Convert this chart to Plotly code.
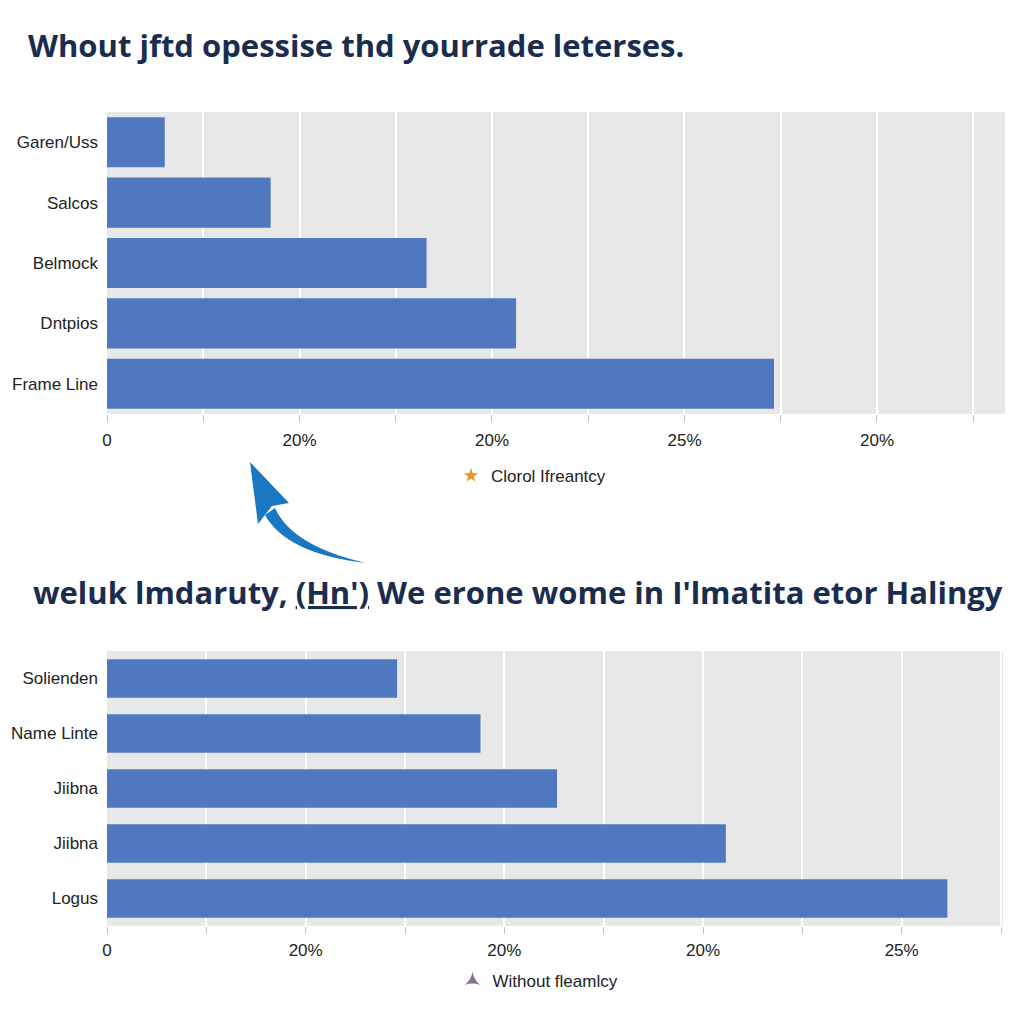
import plotly.graph_objects as go

# ---- data ----
top_title = "Whout jftd opessise thd yourrade leterses."
top_labels = ["Garen/Uss", "Salcos", "Belmock", "Dntpios", "Frame Line"]
top_values = [0.6, 1.7, 3.32, 4.25, 6.93]
top_tickvals = [0, 1, 2, 3, 4, 5, 6, 7, 8, 9]
top_ticktext = ["0", "", "20%", "", "20%", "", "25%", "", "20%", ""]
top_legend = "Clorol Ifreantcy"

bot_title = "weluk lmdaruty, <u>(Hn')</u> We erone wome in I'lmatita etor Halingy"
bot_labels = ["Solienden", "Name Linte", "Jiibna", "Jiibna", "Logus"]
bot_values = [2.92, 3.76, 4.53, 6.23, 8.46]
bot_tickvals = [0, 1, 2, 3, 4, 5, 6, 7, 8, 9]
bot_ticktext = ["0", "", "20%", "", "20%", "", "20%", "", "25%", ""]
bot_legend = "Without fleamlcy"

BAR = "#5078c0"
NAVY = "#1b2d4f"
TXT = "#222222"
ARROW = "#1a78c2"

W = H = 1024
def px(x):
    return x / W
def py(y):
    return 1 - y / H

fig = go.Figure()

pos = list(range(len(top_labels)))

fig.add_trace(go.Bar(x=top_values, y=pos, orientation="h", marker_color=BAR,
                     marker_line_width=0, showlegend=False, xaxis="x", yaxis="y",
                     width=0.83))
fig.add_trace(go.Bar(x=bot_values, y=pos, orientation="h", marker_color=BAR,
                     marker_line_width=0, showlegend=False, xaxis="x2", yaxis="y2",
                     width=0.7))

# legend-only entries
fig.add_trace(go.Scatter(x=[None], y=[None], mode="markers", name=top_legend,
                         marker=dict(symbol="star", size=11, color="#e8962e"),
                         xaxis="x", yaxis="y", legend="legend"))
fig.add_trace(go.Scatter(x=[None], y=[None], mode="markers", name=bot_legend,
                         marker=dict(symbol="star-triangle-up", size=11, color="#8a7390"),
                         xaxis="x2", yaxis="y2", legend="legend2"))

axis_font = dict(family="Liberation Sans, Arial, sans-serif", size=17, color=TXT)

common_x = dict(showgrid=True, gridcolor="white", gridwidth=2, zeroline=False,
                tickmode="array", ticks="outside", ticklen=7, tickcolor="#c4c4c4",
                tickwidth=1, tickfont=axis_font, showline=False, fixedrange=True,
                automargin=False)
common_y = dict(showgrid=False, zeroline=False, tickmode="array", tickvals=pos,
                ticks="", tickfont=axis_font, autorange=False, range=[4.5, -0.5],
                ticklabelstandoff=8, automargin=False)

fig.update_layout(
    width=W, height=H,
    margin=dict(l=0, r=0, t=0, b=0, autoexpand=False),
    paper_bgcolor="white",
    plot_bgcolor="#e8e8e8",
    font=dict(family="Liberation Sans, Arial, sans-serif", color=TXT),
    xaxis=dict(domain=[px(107), px(1005)], anchor="y", range=[0, 9.33],
               tickvals=top_tickvals, ticktext=top_ticktext, ticklabelstandoff=4, **common_x),
    yaxis=dict(domain=[py(414), py(112)], anchor="x", ticktext=top_labels, **common_y),
    xaxis2=dict(domain=[px(107), px(1003)], anchor="y2", range=[0, 9.02],
                tickvals=bot_tickvals, ticktext=bot_ticktext, ticklabelstandoff=2, **common_x),
    yaxis2=dict(domain=[py(926), py(651)], anchor="x2", ticktext=bot_labels, **common_y),
    legend=dict(x=px(531), y=py(476), xanchor="center", yanchor="middle",
                font=dict(size=17, color=TXT), bgcolor="rgba(0,0,0,0)",
                itemwidth=30),
    legend2=dict(x=px(538), y=py(981), xanchor="center", yanchor="middle",
                 font=dict(size=17, color=TXT), bgcolor="rgba(0,0,0,0)",
                 itemwidth=30),
    showlegend=True,
)

title_font = dict(family="Open Sans, sans-serif", size=31, color=NAVY, weight="bold")
fig.add_annotation(text="<b>" + top_title + "</b>", xref="paper", yref="paper",
                   x=px(26), y=py(45), xanchor="left", yanchor="middle",
                   showarrow=False, font=title_font)
fig.add_annotation(text="<b>" + bot_title + "</b>", xref="paper", yref="paper",
                   x=px(31), y=py(592), xanchor="left", yanchor="middle",
                   showarrow=False, font=title_font)

# curved arrow (shaft + head) in paper coords
def P(x, y):
    return f"{px(x):.5f},{py(y):.5f}"

shaft = (f"M {P(265, 515)} Q {P(287, 554)} {P(366, 563)} "
         f"Q {P(292, 546)} {P(275, 508)} Z")
head = f"M {P(250, 462)} L {P(289, 503)} L {P(272, 506)} L {P(258, 524)} Z"
fig.add_shape(type="path", path=shaft, xref="paper", yref="paper",
              fillcolor=ARROW, line=dict(width=0))
fig.add_shape(type="path", path=head, xref="paper", yref="paper",
              fillcolor=ARROW, line=dict(width=0))

fig.write_html("out.html")
